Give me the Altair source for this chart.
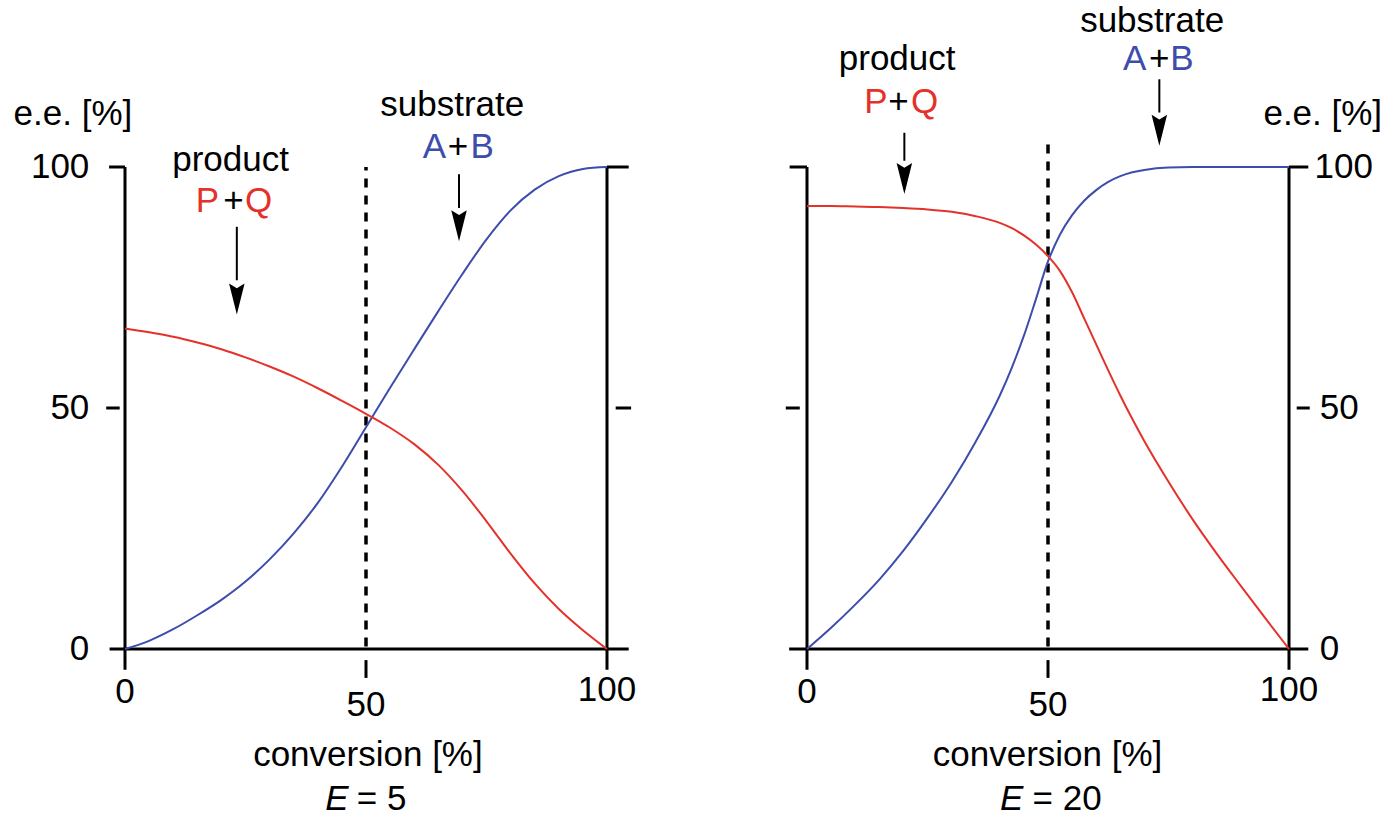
import altair as alt
import pandas as pd

# Conversion grid (%) for the E = 5 curves
conversion_e5 = [0, 5, 10, 15, 20, 25, 30, 35, 40, 45, 50,
                 55, 60, 65, 70, 75, 80, 85, 90, 95, 100]
substrate_ee_e5 = [0.0, 1.7, 4.1, 7.0, 10.2, 14.0, 18.6, 24.0, 30.3, 37.8, 46.0,
                   54.2, 62.2, 70.1, 77.8, 85.0, 91.0, 95.3, 98.1, 99.6, 100.0]
product_ee_e5 = [66.5, 65.7, 64.8, 63.6, 62.2, 60.5, 58.6, 56.5, 54.1, 51.5, 48.8,
                 45.9, 42.5, 38.2, 32.8, 26.5, 19.8, 13.6, 8.3, 3.9, 0.0]

# Conversion grid (%) for the E = 20 curves (denser around the crossing)
conversion_e20 = [0, 5, 10, 15, 20, 25, 30, 35, 40, 42.5, 45, 47.5, 50, 52.5,
                  55, 57.5, 60, 62.5, 65, 67.5, 70, 75, 80, 85, 90, 95, 100]
substrate_ee_e20 = [0.0, 4.4, 9.2, 14.4, 20.4, 27.2, 34.6, 43.0, 52.6, 58.4, 65.0,
                    72.6, 80.4, 86.0, 90.0, 93.0, 95.2, 96.9, 98.1, 98.9, 99.4,
                    99.9, 100.0, 100.0, 100.0, 100.0, 100.0]
product_ee_e20 = [91.9, 91.9, 91.8, 91.7, 91.5, 91.2, 90.7, 89.8, 88.4, 87.3, 85.8,
                  83.9, 81.5, 78.4, 74.0, 68.6, 63.2, 57.8, 52.6, 47.7, 43.1,
                  34.7, 26.9, 19.8, 13.1, 6.5, 0.0]

tick_values = [0, 50, 100]

BLUE = "#3c4dab"
RED = "#e4322b"
FONT = "Liberation Sans"
FS = 35
W = H = 482

X = alt.Scale(domain=[0, 100], nice=False, zero=False)
Y = alt.Scale(domain=[0, 100], nice=False, zero=False)
# arrowhead with a notched back, pointing down
HEAD = "M0,-0.7 L0.5,-1 L0,1 L-0.5,-1 Z"


def xy(xf, yf):
    return dict(x=alt.X(xf, scale=X, axis=None), y=alt.Y(yf, scale=Y, axis=None))


def curve(conv, values, color):
    df = pd.DataFrame({"conversion": conv, "ee": values})
    return alt.Chart(df).mark_line(color=color, strokeWidth=2, interpolate="monotone").encode(
        **xy("conversion:Q", "ee:Q"))


def segments(rows, width=3.0, dash=None):
    df = pd.DataFrame(rows, columns=["x1", "x2", "y1", "y2"])
    kw = dict(color="black", strokeWidth=width)
    if dash:
        kw["strokeDash"] = dash
    return alt.Chart(df).mark_rule(**kw).encode(
        **xy("x1:Q", "y1:Q"), x2="x2:Q", y2="y2:Q")


def texts(rows, align="center", baseline="alphabetic", italic=False):
    df = pd.DataFrame(rows, columns=["x", "y", "label", "color"])
    return alt.Chart(df).mark_text(
        align=align, baseline=baseline, font=FONT, fontSize=FS,
        fontStyle="italic" if italic else "normal",
    ).encode(**xy("x:Q", "y:Q"), text="label:N", color=alt.Color("color:N", scale=None))


def arrows(rows):
    # rows: (x, shaft top, shaft bottom, head centre)
    shafts = segments([(r[0], r[0], r[1], r[2]) for r in rows], width=2)
    hdf = pd.DataFrame({"x": [r[0] for r in rows], "y": [r[3] for r in rows]})
    heads = alt.Chart(hdf).mark_point(
        shape=HEAD, size=961, filled=True, color="black", opacity=1, strokeWidth=0
    ).encode(**xy("x:Q", "y:Q"))
    return shafts + heads


def panel(conv, sub, prod, frame, dash_top, ytick_rows, ytick_align, ann, ital, rest):
    bottom = [(0, -8.9, "0", "black"), (50, -11.6, "50", "black"),
              (100, -8.5, "100", "black")]
    layers = [
        segments(frame),
        segments([(50, 50, 0.5, dash_top)], width=3.5, dash=[9, 8]),
        curve(conv, sub, BLUE),
        curve(conv, prod, RED),
        texts(ytick_rows, align=ytick_align, baseline="middle"),
        texts(bottom, baseline="middle"),
        texts(ann["center"]),
        texts([ital], align="right", italic=True),
        texts([rest], align="left"),
        arrows(ann["arrows"]),
    ]
    return alt.layer(*layers).properties(width=W, height=H)


left_frame = [
    (0, 0, -4.3, 100), (-3.3, 0, 100, 100), (-3.9, -1.1, 50, 50),
    (-3.2, 104.5, 0, 0), (100, 100, -4.3, 100), (100, 104.5, 100, 100),
    (101.8, 105, 50, 50), (50, 50, -2.3, -6),
]
right_frame = [
    (0, 0, -4.3, 100), (-3.6, 0, 100, 100), (-4.4, -1.5, 50, 50),
    (-3.7, 104, 0, 0), (100, 100, -4.3, 100), (100, 104, 100, 100),
    (101.6, 104.3, 50, 50), (50, 50, -2.3, -6),
]

left_ann = {
    "center": [
        (-10.8, 108.7, "e.e. [%]", "black"),
        (21.9, 99.2, "product", "black"),
        (17.1, 90.7, "P", RED), (22.5, 90.7, "+", "black"), (27.7, 90.7, "Q", RED),
        (67.9, 110.6, "substrate", "black"),
        (64.2, 101.8, "A", BLUE), (69.1, 101.8, "+", "black"), (74.1, 101.8, "B", BLUE),
        (50.4, -24.3, "conversion [%]", "black"),
    ],
    "arrows": [(23.2, 87.6, 76.5, 72.6), (69.3, 98.5, 91.5, 87.8)],
}
right_ann = {
    "center": [
        (107.0, 108.7, "e.e. [%]", "black"),
        (18.7, 120.1, "product", "black"),
        (14.3, 111.1, "P", RED), (19.0, 111.1, "+", "black"), (24.4, 111.1, "Q", RED),
        (71.6, 128.0, "substrate", "black"),
        (68.0, 120.1, "A", BLUE), (73.1, 120.1, "+", "black"), (77.8, 120.1, "B", BLUE),
        (49.9, -24.3, "conversion [%]", "black"),
    ],
    "arrows": [(20.2, 107.1, 101.3, 97.6), (73.1, 118.2, 111.3, 107.6)],
}

left = panel(
    conversion_e5, substrate_ee_e5, product_ee_e5, left_frame, 100,
    [(-7.4, v, str(v), "black") for v in tick_values], "right",
    left_ann, (46.4, -33.3, "E", "black"), (48.1, -33.3, "= 5", "black"),
)
right = panel(
    conversion_e20, substrate_ee_e20, product_ee_e20, right_frame, 105,
    [(106.4, 0, "0", "black"), (106.4, 50, "50", "black"), (105.3, 100, "100", "black")],
    "left",
    right_ann, (44.9, -33.3, "E", "black"), (46.8, -33.3, "= 20", "black"),
)

chart = alt.hconcat(left, right, spacing=200, bounds="flush").properties(
    padding={"left": 13, "top": 4, "right": 5, "bottom": 0},
    background="white",
).configure_view(strokeWidth=0, stroke="transparent")

chart.save("out.html", embed_options={"renderer": "svg", "actions": False})
